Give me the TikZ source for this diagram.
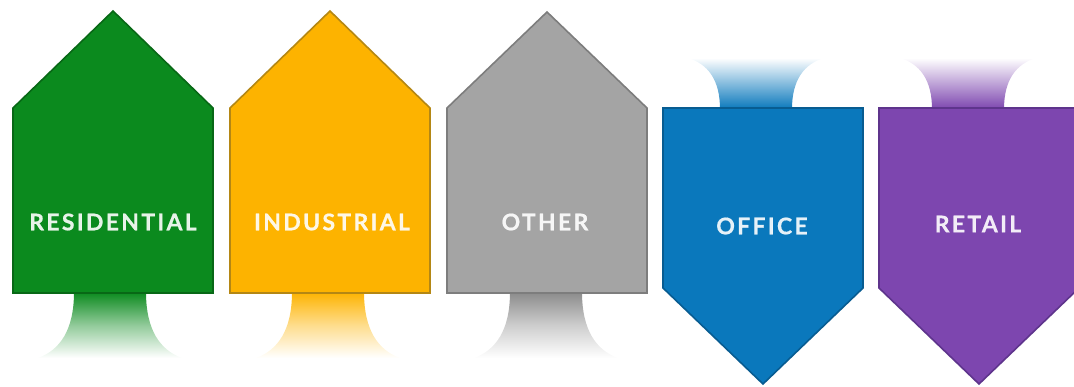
\documentclass[tikz,border=0pt]{standalone}
\usepackage{fontspec}
\setsansfont{Lato}
\usepackage{tikz}

\definecolor{resgreen}{RGB}{11,138,30}
\definecolor{resedge}{RGB}{8,104,22}
\definecolor{indyellow}{RGB}{253,179,0}
\definecolor{indedge}{RGB}{180,135,20}
\definecolor{othgrey}{RGB}{164,164,164}
\definecolor{othedge}{RGB}{125,125,125}
\definecolor{offblue}{RGB}{10,120,188}
\definecolor{offedge}{RGB}{8,92,145}
\definecolor{retpurple}{RGB}{125,70,175}
\definecolor{retedge}{RGB}{94,52,140}

\tikzset{
  sector/.style={line width=1.6pt, line join=miter},
  sectortext/.style={font=\sffamily\bfseries\fontsize{23}{27}\selectfont\addfontfeatures{LetterSpace=10,FakeBold=0.6},
    text=white, text opacity=0.9},
}

\begin{document}
\begin{tikzpicture}[x=1pt,y=1pt]
        \tikzstyle{every node}+=[inner sep=0pt]
        \useasboundingbox (0,0) rectangle (1074,-386);
        % stems under the houses, fading out downwards
        \shade [top color=resgreen, bottom color=white, middle color=resgreen!45] (74,-292) .. controls (74,-330) and (60,-350) .. (38,-358) -- (182,-358) .. controls (160,-350) and (146,-330) .. (146,-292) -- cycle;
        \shade [top color=indyellow, bottom color=white, middle color=indyellow!45] (292,-292) .. controls (292,-330) and (278,-350) .. (256,-358) -- (400,-358) .. controls (378,-350) and (364,-330) .. (364,-292) -- cycle;
        \shade [top color=othgrey!85!black, bottom color=white, middle color=othgrey!55] (510,-292) .. controls (510,-330) and (496,-350) .. (474,-358) -- (618,-358) .. controls (596,-350) and (582,-330) .. (582,-292) -- cycle;
        % stems above the arrows, fading out upwards
        \shade [bottom color=offblue, top color=white, middle color=offblue!50] (720,-109) .. controls (720,-80) and (708,-64) .. (688,-58) -- (824,-58) .. controls (804,-64) and (792,-80) .. (792,-109) -- cycle;
        \shade [bottom color=retpurple, top color=white, middle color=retpurple!50] (932,-109) .. controls (932,-80) and (920,-64) .. (900,-58) -- (1036,-58) .. controls (1016,-64) and (1004,-80) .. (1004,-109) -- cycle;
        % houses
        \draw [sector, draw=resedge, fill=resgreen] (13,-108) -- (113,-11) -- (213,-108) -- (213,-293) -- (13,-293) -- cycle;
        \draw [sector, draw=indedge, fill=indyellow] (230,-108) -- (330,-11) -- (430,-108) -- (430,-293) -- (230,-293) -- cycle;
        \draw [sector, draw=othedge, fill=othgrey] (447,-108) -- (547,-12) -- (647,-108) -- (647,-293) -- (447,-293) -- cycle;
        % arrows pointing down
        \draw [sector, draw=offedge, fill=offblue] (663,-108) -- (863,-108) -- (863,-288) -- (763,-384) -- (663,-288) -- cycle;
        \draw [sector, draw=retedge, fill=retpurple] (879,-108) -- (1079,-108) -- (1079,-288) -- (979,-384) -- (879,-288) -- cycle;
        % names
        \node [sectortext] (res) at (113,-222) {RESIDENTIAL};
        \node [sectortext] (ind) at (332,-222) {INDUSTRIAL};
        \node [sectortext] (oth) at (545,-222) {OTHER};
        \node [sectortext] (off) at (762,-226) {OFFICE};
        \node [sectortext] (ret) at (978,-224) {RETAIL};
\end{tikzpicture}
\end{document}
